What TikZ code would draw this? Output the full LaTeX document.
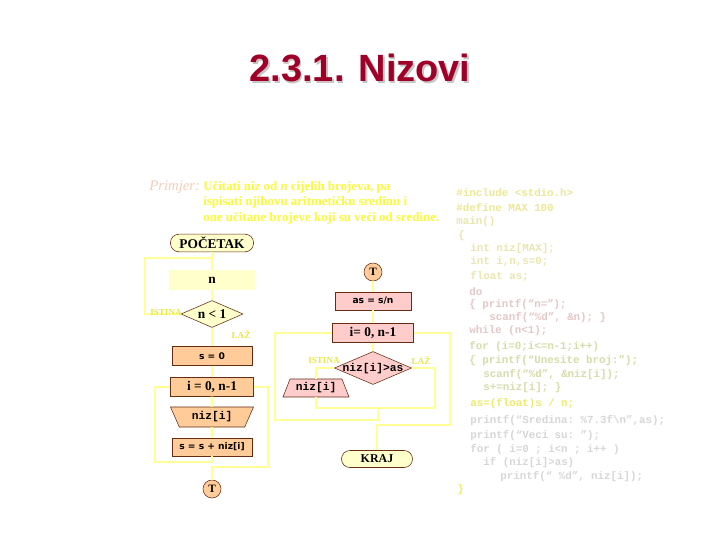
\documentclass[tikz,border=0pt]{standalone}
\usepackage{fontspec}
\setmainfont{Liberation Serif}
\setmonofont{Liberation Mono}
\newfontfamily\titlefont{Liberation Sans}
\newfontfamily\boxfont{DejaVu Sans}
\usepackage{xcolor}
\usepackage{tikz}
\usetikzlibrary{shapes.geometric}

\definecolor{titlered}{RGB}{160,0,40}
\definecolor{flowline}{RGB}{255,255,150}
\definecolor{paleyellow}{RGB}{255,255,204}
\definecolor{peach}{RGB}{255,204,153}
\definecolor{rose}{RGB}{255,204,204}
\definecolor{edgebrown}{RGB}{100,45,20}
\definecolor{labelyellow}{RGB}{232,232,70}
\definecolor{taskyellow}{RGB}{250,250,60}
\definecolor{taskpink}{RGB}{245,205,185}
\definecolor{codeA}{RGB}{236,232,150}
\definecolor{codeB}{RGB}{234,230,175}
\definecolor{codeC}{RGB}{228,200,200}
\definecolor{codeD}{RGB}{214,220,170}
\definecolor{codeE}{RGB}{238,234,110}
\definecolor{codeF}{RGB}{215,215,215}

\newcommand{\nosize}[1]{\makebox[0pt]{\raisebox{-0.35em}[0pt][0pt]{#1}}}

\begin{document}
\begin{tikzpicture}[
	x=0.025cm, y=-0.025cm,
	terminal/.style={
		draw=edgebrown,
		fill=paleyellow,
		rounded corners=2.1mm,
		inner sep=0pt,
		minimum height=4.4mm,
		font=\bfseries\fontsize{9.5}{10}\selectfont
	},
	process/.style={
		draw=edgebrown,
		fill=peach,
		inner sep=0pt,
		minimum height=4.7mm
	},
	calc/.style={
		process,
		fill=rose
	},
	decision/.style={
		diamond,
		draw=edgebrown,
		inner sep=0pt
	},
	inout/.style={
		trapezium,
		trapezium stretches body,
		draw=edgebrown,
		inner sep=0pt,
		font=\ttfamily\bfseries\fontsize{8}{9}\selectfont
	},
	connector/.style={
		circle,
		draw=edgebrown,
		fill=peach,
		inner sep=0pt,
		minimum size=4.5mm,
		font=\bfseries\fontsize{8}{9}\selectfont
	},
	serifbold/.style={font=\bfseries\fontsize{9.5}{10}\selectfont},
	sansbold/.style={font=\boxfont\bfseries\fontsize{6.5}{7}\selectfont},
	monobold/.style={font=\ttfamily\bfseries\fontsize{8}{9}\selectfont},
	branch/.style={
		text=labelyellow,
		inner sep=0pt,
		font=\bfseries\fontsize{6.5}{7}\selectfont
	},
	flow/.style={
		draw=flowline,
		line width=2pt
	},
	code/.style={
		anchor=west,
		inner sep=0pt,
		font=\ttfamily\bfseries\fontsize{7.7}{9}\selectfont
	}
	]
	
	\useasboundingbox[fill=white] (0,0) rectangle (720,540);
	
	% Title
	\node[text=gray!45, font=\titlefont\bfseries\fontsize{27}{32}\selectfont]
		(title_shadow) at (361.5,69.5) {2.3.1. Nizovi};
	\node[text=titlered, font=\titlefont\bfseries\fontsize{27}{32}\selectfont]
		(title) at (360,68) {2.3.1. Nizovi};
	
	% Task text
	\node[anchor=west, inner sep=0pt, text=taskpink,
		font=\itshape\fontsize{10.5}{11}\selectfont] (task_label) at (149,187)
	{Primjer:};
	\node[anchor=north west, inner sep=0pt, text=taskyellow, align=left,
		font=\bfseries\fontsize{9.2}{11}\selectfont] (task_text) at (203,181)
	{Učitati niz od \textit{n} cijelih brojeva, pa\\
	 ispisati njihovu aritmetičku sredinu i\\
	 one učitane brojeve koji su veći od sredine.};
	
	% Input branch
	\node[terminal, minimum width=20.75mm] (start_box) at (212,243)
	{POČETAK};
	
	\node[fill=paleyellow, inner sep=0pt, minimum width=21.25mm,
		minimum height=5mm, serifbold] (read_n) at (212,280)
	{n};
	
	\node[decision, fill=paleyellow, minimum width=15.5mm,
		minimum height=6.75mm, serifbold] (check_n) at (212,314)
	{\nosize{n < 1}};
	
	\node[process, minimum width=20mm, sansbold] (s_init) at (212,356)
	{s = 0};
	
	\node[process, minimum width=20.75mm, serifbold] (loop_read) at (212,387)
	{i = 0, n-1};
	
	\node[inout, fill=peach, shape border rotate=180,
		trapezium left angle=50, trapezium right angle=50,
		minimum width=20.75mm, minimum height=5mm] (read_niz) at (212,417)
	{niz[i]};
	
	\node[process, minimum width=20mm, minimum height=4.5mm, sansbold]
		(s_add) at (212,447)
	{s = s + niz[i]};
	
	\node[connector] (conn_left) at (212,489)
	{T};
	
	% Output branch
	\node[connector] (conn_right) at (373,272)
	{T};
	
	\node[calc, minimum width=19mm, minimum height=4.5mm, sansbold]
		(calc_as) at (373,301)
	{as = s/n};
	
	\node[calc, minimum width=20.25mm, serifbold] (loop_print) at (373,333)
	{i= 0, n-1};
	
	\node[decision, fill=rose, minimum width=19.25mm,
		minimum height=8.25mm, monobold] (check_niz) at (373,368)
	{\nosize{niz[i]>as}};
	
	\node[inout, fill=rose,
		trapezium left angle=56, trapezium right angle=56,
		minimum width=16.5mm, minimum height=4.5mm] (print_niz) at (316,388)
	{niz[i]};
	
	\node[terminal, minimum width=17.75mm, minimum height=4.25mm,
		font=\bfseries\fontsize{8.5}{10}\selectfont] (end_box) at (377,459)
	{KRAJ};
	
	% Junctions
	\coordinate (back_n) at (145,258);
	\coordinate (join_n) at (212,258);
	\coordinate (back_i) at (155,462);
	\coordinate (join_i) at (212,462);
	\coordinate (exit_i) at (268,467);
	\coordinate (drop_i) at (212,467);
	\coordinate (false_in) at (435,408);
	\coordinate (join_body) at (378,408);
	\coordinate (back_body) at (275,420);
	\coordinate (exit_niz) at (450,425);
	\coordinate (drop_niz) at (377,425);
	
	% Arrows
	\draw[flow] (start_box) -- (read_n);
	\draw[flow] (check_n.west) -| (back_n) -- (join_n);
	\draw[flow] (read_n) -- (check_n);
	\draw[flow] (check_n) -- (s_init);
	\draw[flow] (s_init) -- (loop_read);
	\draw[flow] (loop_read) -- (read_niz);
	\draw[flow] (read_niz) -- (s_add);
	\draw[flow] (s_add.south) -- (join_i);
	\draw[flow] (loop_read.west) -| (back_i) -- (join_i);
	\draw[flow] (loop_read.east) -| (exit_i) -- (drop_i) -- (conn_left.north);
	
	\draw[flow] (conn_right) -- (calc_as);
	\draw[flow] (calc_as) -- (loop_print);
	\draw[flow] (loop_print) -- (check_niz);
	\draw[flow] (check_niz.west) -| (print_niz.north);
	\draw[flow] (print_niz.south) |- (false_in) |- (check_niz.east);
	\draw[flow] (join_body) |- (back_body) |- (loop_print.west);
	\draw[flow] (loop_print.east) -| (exit_niz) -- (drop_niz) -- (end_box.north);
	
	% Branch labels
	\node[branch] (true_n) at (166,313) {ISTINA};
	\node[branch] (false_n) at (241,335) {LAŽ};
	\node[branch] (true_niz) at (324,361) {ISTINA};
	\node[branch] (false_niz) at (421,361) {LAŽ};
	
	% C program
	\node[code, text=codeA] (code_1) at (456,193) {\#include <stdio.h>};
	\node[code, text=codeA] (code_2) at (456,208) {\#define MAX 100};
	\node[code, text=codeB] (code_3) at (456,222) {main()};
	\node[code, text=codeB] (code_4) at (458,236) {\{};
	\node[code, text=codeB] (code_5) at (470,249) {int niz[MAX];};
	\node[code, text=codeB] (code_6) at (470,262) {int i,n,s=0;};
	\node[code, text=codeB] (code_7) at (470,276) {float as;};
	\node[code, text=codeC] (code_8) at (469,292) {do};
	\node[code, text=codeC] (code_9) at (469,305) {\{  printf(“n=”);};
	\node[code, text=codeC] (code_10) at (489,318) {scanf(“\%d”, \&n); \}};
	\node[code, text=codeC] (code_11) at (469,331) {while (n<1);};
	\node[code, text=codeD] (code_12) at (469,347) {for (i=0;i<=n-1;i++)};
	\node[code, text=codeD] (code_13) at (469,361) {\{ printf(“Unesite broj:”);};
	\node[code, text=codeD] (code_14) at (483,375) {scanf(“\%d”, \&niz[i]);};
	\node[code, text=codeD] (code_15) at (483,388) {s+=niz[i]; \}};
	\node[code, text=codeE] (code_16) at (470,404) {as=(float)s / n;};
	\node[code, text=codeF] (code_17) at (470,421) {printf(“Sredina: \%7.3f\textbackslash n”,as);};
	\node[code, text=codeF] (code_18) at (470,436) {printf(“Veci su: ”);};
	\node[code, text=codeF] (code_19) at (470,450) {for ( i=0 ; i<n ; i++ )};
	\node[code, text=codeF] (code_20) at (483,463) {if (niz[i]>as)};
	\node[code, text=codeF] (code_21) at (500,477) {printf(“ \%d”, niz[i]);};
	\node[code, text=codeE] (code_22) at (457,490) {\}};
	
\end{tikzpicture}
\end{document}
